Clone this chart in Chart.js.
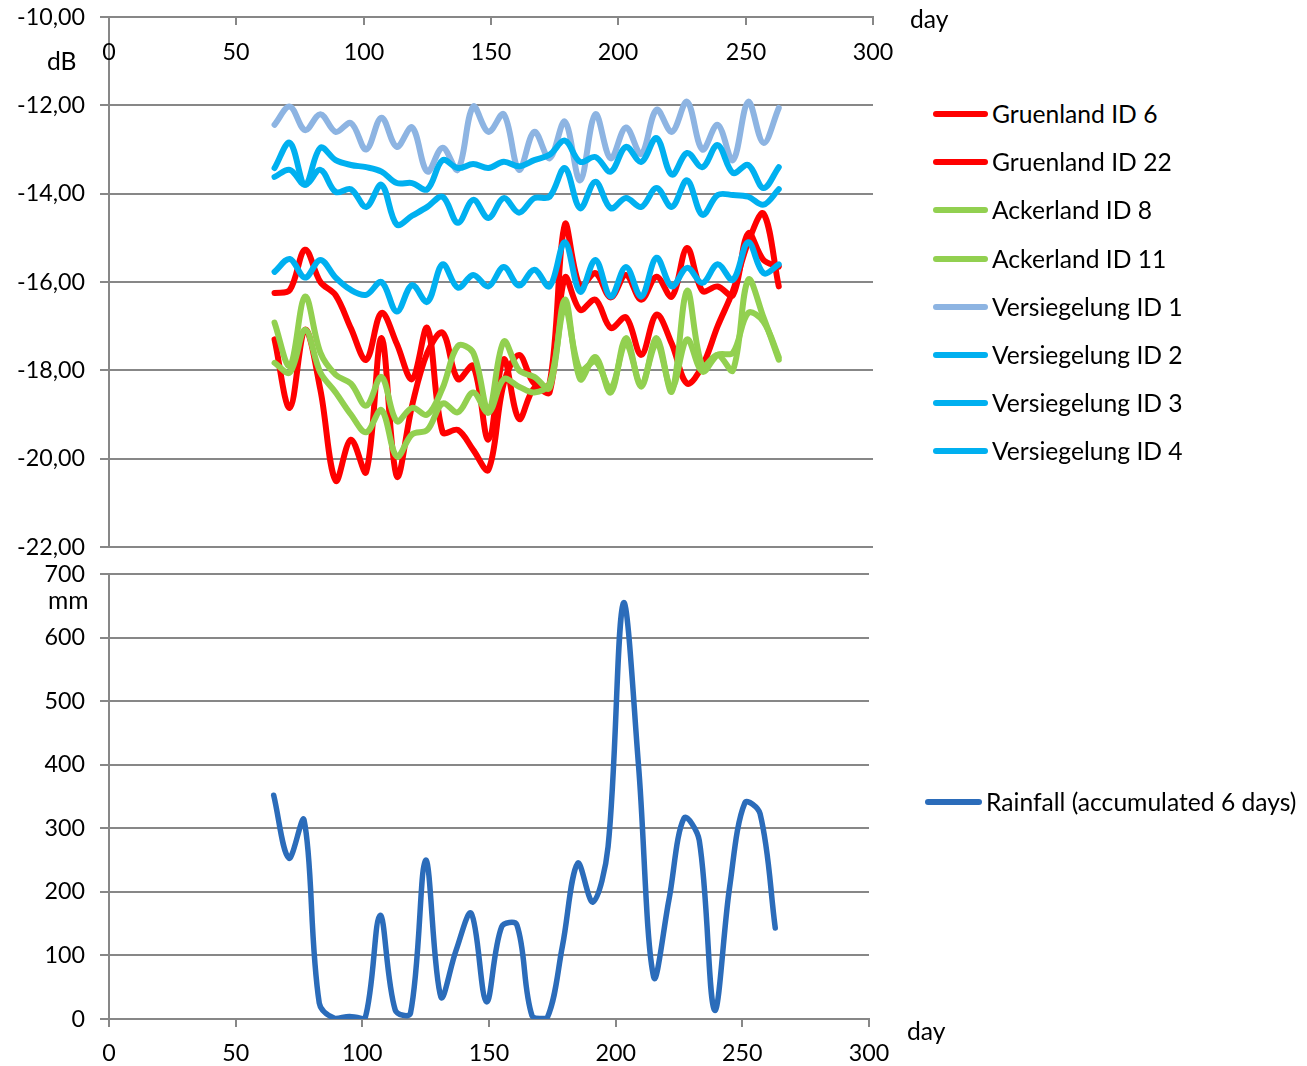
<!DOCTYPE html>
<html><head><meta charset="utf-8">
<script src="https://cdn.jsdelivr.net/npm/chart.js@4"></script>
<style>
html,body{margin:0;padding:0;background:#fff}
body{width:1307px;height:1066px;position:relative;overflow:hidden}
canvas{position:absolute;left:0}
.t{position:absolute;color:#000;white-space:nowrap;line-height:1;height:0;display:flex;align-items:center}
.sw{display:inline-block;width:55px;height:6px;margin-right:4px;border-radius:3px}
</style></head><body>
<canvas id="c1" width="900" height="562" style="top:0"></canvas>
<canvas id="c2" width="900" height="506" style="top:560px"></canvas>
<div id="labels"></div>
<script>
// ---------- data ----------
const days = [65,71,77,83,89,95,101,107,113,119,125,131,137,143,149,155,161,167,173,179,185,191,197,203,209,215,221,227,233,239,245,251,257,263];
const gruenland6  = [-16.25,-16.18,-15.27,-16.0,-16.3,-17.05,-17.76,-16.7,-17.4,-18.2,-17.04,-19.4,-19.35,-19.8,-20.25,-18.3,-17.65,-18.3,-18.3,-14.7,-16.1,-15.8,-16.35,-15.84,-16.4,-15.88,-16.33,-15.23,-16.2,-16.1,-16.3,-14.9,-15.5,-15.65];
const gruenland22 = [-17.3,-18.85,-17.08,-18.44,-20.5,-19.57,-20.3,-17.27,-20.4,-18.8,-17.6,-17.15,-18.2,-17.9,-19.57,-17.75,-19.1,-18.4,-18.5,-15.9,-16.63,-16.4,-17.04,-16.8,-17.65,-16.74,-17.4,-18.3,-17.9,-17.0,-16.2,-15.1,-14.45,-16.1];
const ackerland8  = [-16.92,-17.9,-16.33,-17.6,-18.1,-18.3,-18.8,-18.15,-19.15,-18.85,-19.0,-18.4,-17.45,-17.6,-18.9,-17.35,-18.0,-18.15,-18.4,-16.4,-18.2,-17.7,-18.5,-17.27,-18.37,-17.27,-18.48,-16.2,-17.9,-17.65,-18.0,-15.95,-16.8,-17.76];
const ackerland11 = [-17.83,-18.05,-17.08,-18.05,-18.5,-19.0,-19.4,-18.9,-19.95,-19.45,-19.35,-18.75,-18.95,-18.5,-18.96,-18.2,-18.37,-18.5,-18.3,-16.6,-18.0,-17.8,-18.4,-17.4,-18.3,-17.4,-18.4,-17.3,-18.03,-17.65,-17.6,-16.7,-16.9,-17.7];
const versieg1 = [-12.44,-12.03,-12.56,-12.2,-12.6,-12.4,-13.0,-12.28,-12.94,-12.5,-13.5,-12.96,-13.46,-12.03,-12.6,-12.2,-13.46,-12.6,-13.2,-12.37,-13.7,-12.2,-13.2,-12.5,-13.1,-12.1,-12.6,-11.92,-13.0,-12.44,-13.24,-11.92,-12.85,-12.06];
const versieg2 = [-13.42,-12.85,-13.8,-12.96,-13.24,-13.35,-13.4,-13.5,-13.76,-13.76,-13.9,-13.24,-13.42,-13.33,-13.42,-13.28,-13.38,-13.24,-13.12,-12.8,-13.28,-13.17,-13.5,-12.94,-13.28,-12.74,-13.57,-13.08,-13.4,-12.9,-13.53,-13.35,-13.87,-13.4];
const versieg3 = [-13.62,-13.46,-13.8,-13.46,-13.96,-13.9,-14.3,-13.8,-14.7,-14.5,-14.3,-14.07,-14.66,-14.14,-14.55,-14.1,-14.43,-14.1,-14.07,-13.42,-14.33,-13.73,-14.33,-14.1,-14.3,-13.87,-14.3,-13.7,-14.48,-14.03,-14.03,-14.07,-14.25,-13.9];
const versieg4 = [-15.77,-15.48,-15.9,-15.5,-15.9,-16.18,-16.29,-16.0,-16.67,-16.07,-16.45,-15.6,-16.13,-15.84,-16.1,-15.66,-16.08,-15.72,-16.1,-15.1,-16.22,-15.5,-16.33,-15.66,-16.33,-15.45,-16.1,-15.68,-16.02,-15.6,-15.95,-15.1,-15.8,-15.6];
const rainfall = [352,253,313,25,1,4,0,163,14,9,250,35,108,166,27,145,148,5,2,115,245,184,271,654,400,66,187,316,281,14,208,340,323,143];

const seriesNames = ['Gruenland ID 6','Gruenland ID 22','Ackerland ID 8','Ackerland ID 11','Versiegelung ID 1','Versiegelung ID 2','Versiegelung ID 3','Versiegelung ID 4'];
const seriesColors = ['#FF0000','#FF0000','#92D050','#92D050','#8DB4E2','#00B0F0','#00B0F0','#00B0F0'];
const seriesValues = [gruenland6,gruenland22,ackerland8,ackerland11,versieg1,versieg2,versieg3,versieg4];
const rainName = 'Rainfall (accumulated 6 days)';
const rainColor = '#2B6CBA';
const dbTicks = {min:-22, max:-10, step:2};
const mmTicks = {min:0, max:700, step:100};
const dayTicks = {min:0, max:300, step:50};

// ---------- style ----------
const FAM = 'Lato, "Liberation Sans", sans-serif';
function fit(text, target){ const c=document.createElement('canvas').getContext('2d'); c.font='100px '+FAM; return 100*target/c.measureText(text).width; }
const tickSize = fit('-10,00', 68);
const txtSize = (fit('Versiegelung ID 4', 188) + fit(rainName, 315))/2;
const GRID = '#878787';

const pts = v => days.map((d,i)=>({x:d,y:v[i]}));

const topTicks = {
  id:'topTicks',
  afterDraw(chart){
    const xs = chart.scales.x, ctx = chart.ctx, top = chart.chartArea.top;
    ctx.save();
    ctx.strokeStyle = GRID; ctx.lineWidth = 2;
    ctx.fillStyle = '#000'; ctx.font = tickSize+'px '+FAM;
    ctx.textAlign = 'center'; ctx.textBaseline = 'middle';
    xs.ticks.forEach(t=>{
      const px = Math.round(xs.getPixelForValue(t.value));
      ctx.beginPath(); ctx.moveTo(px, top); ctx.lineTo(px, top+8); ctx.stroke();
      ctx.fillText(String(t.value), px, top+35);
    });
    ctx.restore();
  }
};

const yAxis = (t, fmt) => ({
  min:t.min, max:t.max,
  ticks:{stepSize:t.step, color:'#000', font:{family:FAM, size:tickSize}, padding:15, callback:fmt},
  grid:{color:GRID, lineWidth:2, tickLength:9, drawTicks:true},
  border:{display:true, color:GRID, width:2},
  afterFit(s){ s.width = 109; s.paddingTop = 0; s.paddingBottom = 0; }
});

new Chart(document.getElementById('c1'), {
  type:'line',
  data:{datasets: seriesValues.map((v,i)=>({
    label:seriesNames[i], data:pts(v), borderColor:seriesColors[i], backgroundColor:seriesColors[i],
    borderWidth:6, pointRadius:0, tension:0.35, fill:false, order:seriesValues.length-i,
    borderCapStyle:'round', borderJoinStyle:'round'
  }))},
  options:{
    responsive:false, animation:false, devicePixelRatio:1,
    layout:{padding:{left:0, top:0, right:27, bottom:15}},
    plugins:{legend:{display:false}, tooltip:{enabled:false}},
    scales:{
      x:{type:'linear', position:'top', min:dayTicks.min, max:dayTicks.max,
         ticks:{stepSize:dayTicks.step, display:false},
         grid:{drawOnChartArea:false, drawTicks:false},
         border:{display:true, color:GRID, width:2},
         afterFit(s){ s.height = 17; s.paddingLeft = 0; s.paddingRight = 0; }},
      y: yAxis(dbTicks, v => v.toFixed(2).replace('.',','))
    }
  },
  plugins:[topTicks]
});

new Chart(document.getElementById('c2'), {
  type:'line',
  data:{datasets:[{label:rainName, data:pts(rainfall), borderColor:rainColor, backgroundColor:rainColor,
    borderWidth:5.5, pointRadius:0, tension:0.35, fill:false, borderCapStyle:'round', borderJoinStyle:'round'}]},
  options:{
    responsive:false, animation:false, devicePixelRatio:1,
    layout:{padding:{left:0, top:14, right:31, bottom:0}},
    plugins:{legend:{display:false}, tooltip:{enabled:false}},
    scales:{
      x:{type:'linear', position:'bottom', min:dayTicks.min, max:dayTicks.max,
         ticks:{stepSize:dayTicks.step, color:'#000', font:{family:FAM, size:tickSize}, padding:13, maxRotation:0, autoSkip:false},
         grid:{drawOnChartArea:false, drawTicks:true, tickLength:8, color:GRID, lineWidth:2},
         border:{display:true, color:GRID, width:2},
         afterFit(s){ s.height = 47; s.paddingLeft = 0; s.paddingRight = 0; }},
      y: yAxis(mmTicks, v => String(v))
    }
  }
});

// ---------- legends & axis titles ----------
const L = document.getElementById('labels');
function addText(txt, x, y){
  const d = document.createElement('div'); d.className='t';
  d.style.left = x+'px'; d.style.top = y+'px';
  d.style.fontFamily = FAM; d.style.fontSize = txtSize+'px';
  d.appendChild(document.createTextNode(txt)); L.appendChild(d); return d;
}
function addLegend(name, color, x, y){
  const d = addText('', x, y);
  const s = document.createElement('span'); s.className='sw'; s.style.background=color; s.style.width=(name===rainName?57:55)+'px';
  d.insertBefore(s, d.firstChild);
  d.appendChild(document.createTextNode(name));
}
const legY = [114,162,210,259,307,355,403,451];
seriesNames.forEach((n,i)=>addLegend(n, seriesColors[i], 933, legY[i]));
addLegend(rainName, rainColor, 925, 802);
addText('day', 910, 19);
addText('dB', 47, 61);
addText('mm', 48, 600);
addText('day', 907, 1031);
</script>
</body></html>
